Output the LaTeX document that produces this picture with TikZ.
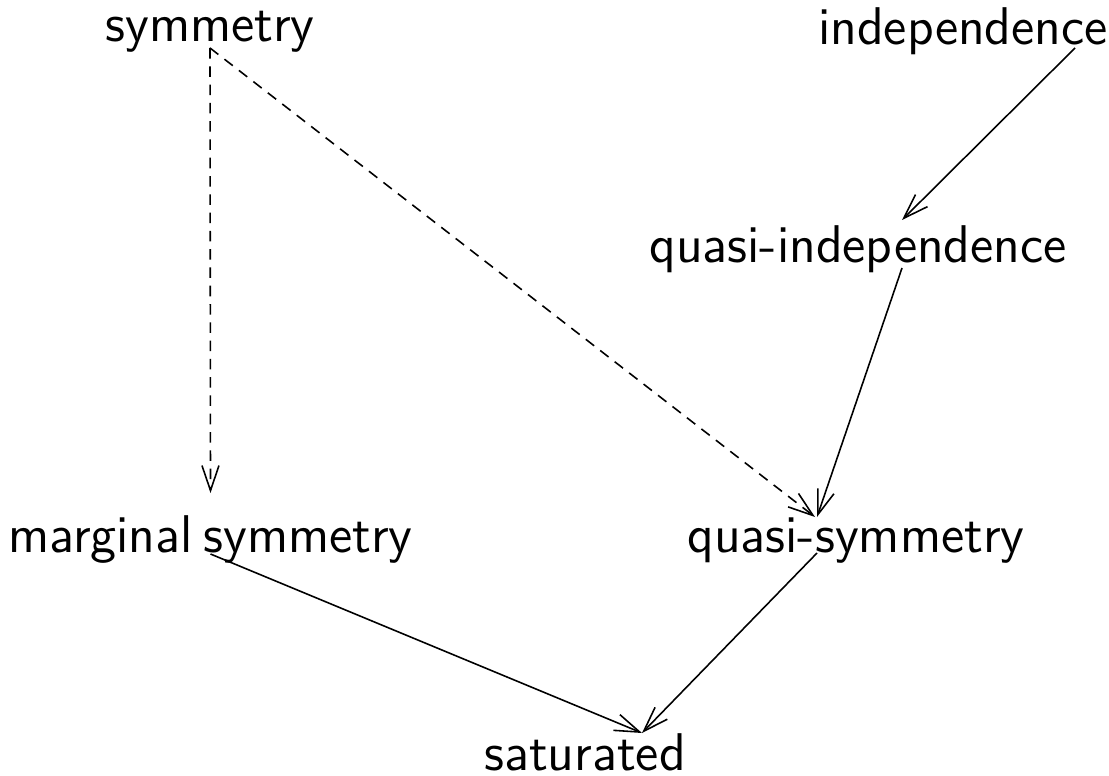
\documentclass[tikz,border=0pt]{standalone}
\usetikzlibrary{arrows.meta, calc}
\tikzstyle{model} = [
    inner sep=0pt,
    anchor=base,
    font=\sffamily\fontsize{15.1}{18}\selectfont
]
\tikzstyle{arrow} = [
    line width=0.45pt,
    -{Straight Barb[length=2.5mm,width=1.7mm]}
]
\tikzstyle{dasharrow} = [arrow, dash pattern=on 3pt off 2.2pt]

\begin{document}
\begin{tikzpicture}[x=0.01cm, y=-0.01cm]
\useasboundingbox (0,0) rectangle (1109,776);

\node (sym) [model] at (210,42) {symmetry};
\node (indep) [model] at (963,45) {independence};
\node (qindep) [model] at (858,262) {quasi-independence};
\node (margsym) [model] at (210.5,552) {marginal\hspace{0.2em}symmetry};
\node (qsym) [model] at (856,552) {quasi-symmetry};
\node (sat) [model] at (585,770) {saturated};

\draw [dasharrow] ($(sym.base)+(0,6)$) -- ($(margsym.base)+(0,-59)$);
\draw [dasharrow] ($(sym.base)+(0,6)$) -- ($(qsym.base)+(-41,-35)$);
\draw [arrow] ($(indep.base)+(112,3)$) -- ($(qindep.base)+(44,-42)$);
\draw [arrow] ($(qindep.base)+(44,6)$) -- ($(qsym.base)+(-39,-35)$);
\draw [arrow] ($(margsym.base)+(0,2)$) -- ($(sat.base)+(57,-37)$);
\draw [arrow] ($(qsym.base)+(-39,1)$) -- ($(sat.base)+(57,-37)$);

\end{tikzpicture}
\end{document}
